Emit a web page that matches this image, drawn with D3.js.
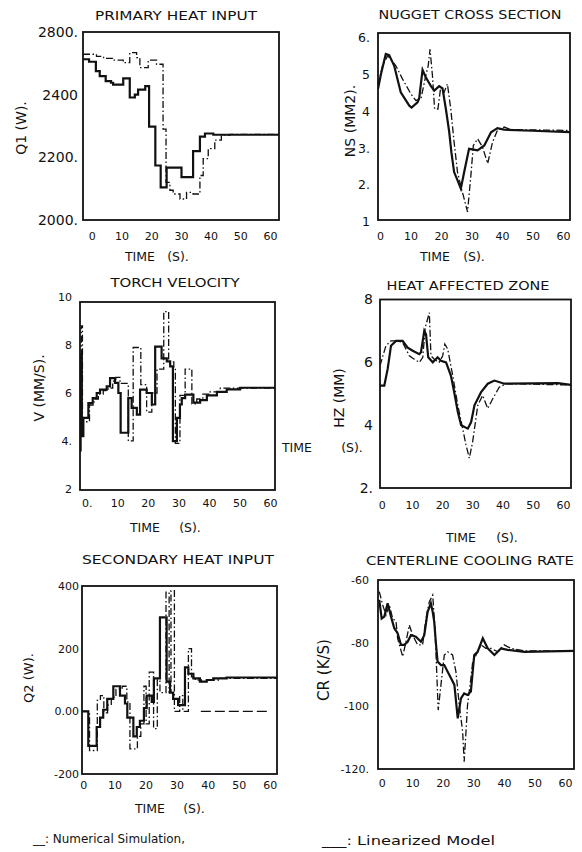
<!DOCTYPE html>
<html><head><meta charset="utf-8">
<script src="https://cdn.jsdelivr.net/npm/d3@7"></script>
<style>
body{margin:0;background:#fff}
svg{display:block;background:#fff}
text{font-family:"DejaVu Sans",sans-serif;fill:#111}
</style>
</head><body>
<svg id="c" width="582" height="852"></svg>
<script>
// ---------- tick labels ----------
const xTickValues = [0,10,20,30,40,50,60];
const xTickLabels = ["0","10","20","30","40","50","60"];
const xTickLabelsV = ["0.","10","20","30","40","50","60"];
const q1Ticks = [2000,2200,2400,2600];
const q1TickLabels = ["2000.","2200.","2400","2800."];
const nsTicks = [1,2,3,4,5,6];
const nsTickLabels = ["1","2.","3.","4","5","6."];
const vTicks = [2,4,6,8,10];
const vTickLabels = ["2","4.","6","8","10"];
const hzTicks = [2,4,6,8];
const hzTickLabels = ["2.","4","6","8"];
const q2Ticks = [-200,0,200,400];
const q2TickLabels = ["-200","0.00","200","400"];
const crTicks = [-120,-100,-80,-60];
const crTickLabels = ["-120.","-100","-80","-60"];

// ---------- series: [time (s), value] ----------
// Primary heat input Q1 (W)
const q1Num = [[-2.93,2513],[-0.9,2505],[1.4,2475],[2.7,2459],[4.7,2443],[6.5,2438],[7.2,2432],[10.6,2452],[12.8,2391],[14.5,2400],[15.6,2416],[18.0,2427],[19.3,2298],[21.4,2174],[23.2,2104],[25.2,2167],[30.2,2137],[34.1,2220],[36.4,2266],[38.1,2276],[40.9,2272],[63,2272]];
const q1Lin = [[-2.93,2529],[1.6,2522],[4,2516],[7,2510],[10.6,2502],[12.8,2534],[15.1,2518],[16.2,2486],[19.0,2510],[21.8,2497],[24.0,2290],[25.0,2120],[26.3,2095],[27.4,2083],[29.7,2067],[31.9,2088],[34.1,2083],[36.4,2142],[37.5,2196],[39.2,2228],[41.4,2255],[43.6,2271],[46.5,2273],[63,2273]];
// Nugget cross section NS (mm2)
const nsNum = [[-0.66,4.6],[0.3,5.0],[1.9,5.55],[3.0,5.52],[4.65,5.23],[6.8,4.51],[9.6,4.15],[10.35,4.1],[12.3,4.24],[12.85,4.35],[13.95,5.12],[15.0,4.92],[16.7,4.68],[17.8,4.56],[19.4,4.68],[20.5,4.62],[21.6,4.06],[22.7,3.43],[23.4,2.89],[24.3,2.35],[25.4,2.13],[26.5,1.9],[27.6,2.35],[29.2,2.98],[32.0,2.94],[34.2,3.07],[36.4,3.43],[38.5,3.54],[40.7,3.5],[50,3.47],[62.3,3.43]];
const nsLin = [[-0.66,4.7],[0.83,5.23],[2.46,5.5],[3.55,5.41],[5.2,5.23],[7.4,4.87],[10.1,4.47],[11.75,4.29],[13.4,4.33],[15.0,4.96],[15.8,5.23],[16.4,5.68],[17.2,4.96],[17.9,4.06],[19.0,4.06],[19.9,4.65],[21.0,4.51],[22.1,4.74],[23.2,4.06],[24.3,3.16],[25.4,2.35],[27.0,1.81],[28.7,1.27],[29.8,2.26],[30.6,3.07],[32.0,3.25],[33.6,3.03],[35.3,2.58],[36.9,3.16],[38.5,3.48],[40.7,3.57],[42.9,3.5],[62.3,3.48]];
// Torch velocity V (mm/s)
const vNum = [[-2.2,3.6],[-2.0,7.6],[-1.6,4.2],[-1.1,4.96],[0.54,5.58],[1.96,5.79],[3.27,6.0],[4.35,6.14],[6.55,6.28],[7.63,6.62],[9.26,6.42],[10.35,6.0],[11.1,4.34],[13.6,5.79],[14.7,5.38],[16.4,5.1],[17.45,6.14],[19.6,6.0],[21.3,5.52],[22.4,7.94],[24.5,7.45],[26.2,7.32],[27.3,7.11],[28.2,3.99],[29.5,4.96],[30.5,5.52],[31.1,5.79],[32.2,5.93],[34.9,5.6],[37.1,5.7],[39.3,5.9],[42.6,6.05],[45.8,6.15],[50.2,6.22],[61.6,6.22]];
const vLin = [[-2.2,4.2],[-1.8,8.8],[-1.4,4.8],[0.9,5.5],[2.4,5.75],[3.8,5.95],[5.4,6.1],[7.0,6.2],[8.5,6.5],[9.5,6.65],[10.9,6.4],[13.6,4.0],[15.2,7.9],[17.7,6.35],[19.6,5.2],[21.3,6.0],[23.0,7.0],[25.2,9.4],[26.8,7.3],[28.5,7.05],[29.0,3.9],[30.5,5.9],[32.2,7.0],[34.4,5.55],[36.0,5.75],[38,5.95],[40,6.05],[43.7,6.2],[61.6,6.22]];
// Heat affected zone HZ (mm)
const hzNum = [[-0.56,5.26],[0.87,5.26],[1.98,5.79],[3.08,6.53],[4.74,6.68],[6.94,6.68],[8.6,6.47],[10.26,6.37],[12.46,6.26],[13.0,6.32],[14.1,7.0],[14.67,6.89],[15.4,6.16],[16.9,6.0],[18.5,6.16],[19.6,6.05],[21.3,6.0],[22.9,5.58],[24.0,5.05],[25.2,4.42],[26.3,4.0],[28.5,3.89],[29.6,4.1],[30.7,4.63],[32.9,5.05],[35.1,5.32],[37.3,5.42],[40.6,5.32],[58.3,5.34],[62.65,5.28]];
const hzLin = [[-0.56,5.89],[1.4,6.53],[3.08,6.68],[5.3,6.68],[6.94,6.63],[9.15,6.21],[10.8,6.1],[12.46,6.0],[13.6,6.16],[14.4,7.1],[15.77,7.58],[16.3,6.21],[17.4,6.1],[19.0,6.0],[20.2,6.21],[20.9,6.58],[21.85,6.42],[23.5,5.58],[25.2,4.63],[26.8,3.89],[27.9,3.37],[29.0,2.95],[30.1,3.47],[31.8,4.63],[33.4,4.95],[35.1,4.53],[36.75,4.84],[38.9,5.21],[41.2,5.32],[62.65,5.28]];
// Secondary heat input Q2 (W)
const q2Num = [[-0.42,0],[1.6,-110],[4.3,-50],[5.4,-20],[6.4,5],[7.7,40],[9.65,80],[11.8,50],[13.4,25],[14.15,-20],[16.1,-80],[17.2,-50],[18.2,-30],[19.5,10],[20.4,50],[22.0,30],[22.7,105],[24.65,300],[26.8,95],[27.9,60],[28.9,40],[30.5,20],[32.7,140],[33.8,120],[35.4,105],[37.5,95],[39.7,100],[41.8,105],[46.1,108],[62.3,108]];
const q2Lin = [[-0.42,0],[2.0,-125],[4.5,35],[5.5,50],[6.6,-5],[7.8,20],[9.0,45],[10.5,70],[12.5,80],[14.0,30],[15.0,-120],[17.4,-80],[18.5,-40],[19.5,80],[20.2,-40],[21.2,125],[22.6,-55],[23.8,100],[24.65,60],[26.6,380],[27.6,60],[28.2,385],[29.3,0],[31.0,50],[32.0,0],[33.8,200],[34.8,110],[36,100],[38,95],[40,100],[44,105],[62.3,105]];
const q2Ref = [[37.8,0],[59.5,0]];
// Centerline cooling rate CR (K/s)
const crNum = [[-0.78,-66.3],[0,-72.2],[0.87,-71.6],[1.95,-67.4],[3.04,-71.6],[4.13,-75.3],[5.22,-76.9],[6.32,-80.6],[7.41,-80.6],[8.5,-79.6],[9.59,-77.5],[11.2,-78.0],[12.86,-79.6],[13.95,-77.5],[15.04,-70.1],[16.1,-67.4],[16.7,-70.1],[17.2,-73.2],[17.8,-80.6],[18.3,-85.9],[19.4,-87.0],[20.5,-87.0],[21.6,-89.1],[22.7,-91.2],[23.8,-93.3],[24.9,-103.9],[25.95,-97.6],[27.0,-96.0],[28.1,-96.5],[29.2,-95.4],[30.3,-83.8],[31.4,-82.8],[33.1,-78.5],[34.7,-81.7],[36.9,-83.8],[39.05,-81.7],[41.2,-82.2],[46.7,-82.8],[62.95,-82.5]];
const crLin = [[-0.78,-63.7],[0.33,-67.9],[1.41,-71.1],[2.5,-67.9],[3.6,-72.2],[4.7,-73.2],[5.22,-78.5],[6.86,-84.3],[7.96,-79.6],[9.05,-74.3],[10.14,-77.5],[11.77,-80.6],[13.4,-80.6],[14.5,-72.2],[15.6,-66.9],[16.7,-64.8],[17.45,-75.3],[18.1,-91.2],[18.5,-101.3],[19.4,-93.3],[20.5,-83.8],[21.6,-82.8],[23.2,-83.8],[24.3,-89.1],[25.4,-99.7],[26.5,-108.1],[27.0,-117.7],[27.6,-108.1],[28.1,-99.7],[29.2,-91.2],[29.8,-85.9],[30.9,-83.8],[32.5,-80.6],[34.1,-81.7],[35.8,-81.7],[38.0,-82.8],[40.1,-80.6],[42.3,-81.7],[46.7,-82.5],[62.95,-82.5]];

const legendLabels = ["__: Numerical Simulation,", "___: Linearized Model"];

// ---------- panel definitions (content) ----------
const panels = [
  {key:"q1", title:"PRIMARY HEAT INPUT", yTitle:"Q1 (W).", yTicks:q1Ticks, yLabels:q1TickLabels, xLabels:xTickLabels, curve:d3.curveStepAfter,
   series:[{data:q1Lin,kind:"lin"},{data:q1Num,kind:"num"}]},
  {key:"ns", title:"NUGGET CROSS SECTION", yTitle:"NS (MM2).", yTicks:nsTicks, yLabels:nsTickLabels, xLabels:xTickLabels, curve:d3.curveLinear,
   series:[{data:nsLin,kind:"lin"},{data:nsNum,kind:"num"}]},
  {key:"v", title:"TORCH VELOCITY", yTitle:"V (MM/S).", yTicks:vTicks, yLabels:vTickLabels, xLabels:xTickLabelsV, curve:d3.curveStepAfter,
   series:[{data:vLin,kind:"lin"},{data:vNum,kind:"num"}]},
  {key:"hz", title:"HEAT AFFECTED ZONE", yTitle:"HZ (MM)", yTicks:hzTicks, yLabels:hzTickLabels, xLabels:xTickLabels, curve:d3.curveLinear,
   series:[{data:hzLin,kind:"lin"},{data:hzNum,kind:"num"}]},
  {key:"q2", title:"SECONDARY HEAT INPUT", yTitle:"Q2 (W).", yTicks:q2Ticks, yLabels:q2TickLabels, xLabels:xTickLabels, curve:d3.curveStepAfter,
   series:[{data:q2Ref,kind:"ref"},{data:q2Lin,kind:"lin"},{data:q2Num,kind:"num"}]},
  {key:"cr", title:"CENTERLINE COOLING RATE", yTitle:"CR (K/S)", yTicks:crTicks, yLabels:crTickLabels, xLabels:xTickLabels, curve:d3.curveLinear,
   series:[{data:crLin,kind:"lin"},{data:crNum,kind:"num"}]}
];

// ---------- layout (positions / sizes) ----------
const layout = {
  q1:{box:[83,32,279,220], xDom:[-2.93,63.0], yDom:[2000,2600], title:[176,20,162], yTitle:[21,128,14], yFont:14, yPad:5, xLab:236, timeAt:[140,178,261]},
  ns:{box:[378,33,570,220], xDom:[-0.66,62.3], yDom:[1.05,6.12], title:[470,19,183], yTitle:[350,121,14], yFont:12.5, yPad:8, xLab:236, timeAt:[435,474,261]},
  v: {box:[80,302,275,490], xDom:[-2.2,61.6], yDom:[1.95,9.8], title:[175,287,129], yTitle:[39,388,14], yFont:11, yPad:8, xLab:503, timeAt:[145,190,532]},
  hz:{box:[380,299.5,571,488], xDom:[-0.56,62.65], yDom:[2,8], title:[468,290,163], yTitle:[339,398,14], yFont:14, yPad:7, xLab:505, timeAt:[461,507,542]},
  q2:{box:[82,586,277,774], xDom:[-0.42,62.3], yDom:[-200,400], title:[178,564,192], yTitle:[28,678,13], yFont:11, yPad:3, xLab:785, timeAt:[150,194,813]},
  cr:{box:[378,580,574,769], xDom:[-1.2,62.95], yDom:[-120,-60], title:[470,565,208], yTitle:[324,670,15], yFont:11, yPad:9, xLab:783, timeAt:null}
};
const styles = {
  num:{w:2.2, dash:null},
  lin:{w:1.3, dash:"7,2.5,1.5,2.5"},
  ref:{w:1.4, dash:"10,4"}
};

const svg = d3.select("#c");
svg.append("rect").attr("width",582).attr("height",852).attr("fill","#fff");
const defs = svg.append("defs");

panels.forEach(p => {
  const L = layout[p.key];
  const [x0,y0,x1,y1] = L.box;
  const x = d3.scaleLinear().domain(L.xDom).range([x0,x1]);
  const y = d3.scaleLinear().domain(L.yDom).range([y1,y0]);
  const g = svg.append("g").attr("class","panel-"+p.key);

  defs.append("clipPath").attr("id","clip-"+p.key)
    .append("rect").attr("x",x0).attr("y",y0).attr("width",x1-x0).attr("height",y1-y0);

  const line = d3.line().x(d=>x(d[0])).y(d=>y(d[1])).curve(p.curve);
  p.series.forEach(s => {
    const st = styles[s.kind];
    g.append("path").attr("d", line(s.data))
      .attr("clip-path","url(#clip-"+p.key+")")
      .attr("fill","none").attr("stroke","#111")
      .attr("stroke-width", st.w)
      .attr("stroke-dasharray", st.dash)
      .attr("stroke-linejoin","miter");
  });

  g.append("rect").attr("x",x0).attr("y",y0).attr("width",x1-x0).attr("height",y1-y0)
    .attr("fill","none").attr("stroke","#111").attr("stroke-width",1.8);

  // x axis labels
  const fsX = 11;
  const xa = d3.axisBottom(x).tickValues(xTickValues).tickFormat((d,i)=>p.xLabels[i])
    .tickSize(0).tickPadding(L.xLab - y1 - 0.36*fsX);
  const gx = g.append("g").attr("transform",`translate(0,${y1})`).call(xa);
  gx.select(".domain").remove();
  gx.attr("font-family",null).attr("font-size",fsX);

  // y axis labels
  const ya = d3.axisLeft(y).tickValues(p.yTicks).tickFormat((d,i)=>p.yLabels[i])
    .tickSize(0).tickPadding(L.yPad);
  const gy = g.append("g").attr("transform",`translate(${x0},0)`).call(ya);
  gy.select(".domain").remove();
  gy.attr("font-family",null).attr("font-size",L.yFont);

  // title
  g.append("text").attr("x",L.title[0]).attr("y",L.title[1]).attr("text-anchor","middle")
    .attr("font-size",12.5).attr("textLength",L.title[2]).attr("lengthAdjust","spacingAndGlyphs")
    .text(p.title);

  // y title
  g.append("text").attr("transform",`translate(${L.yTitle[0]},${L.yTitle[1]}) rotate(-90)`)
    .attr("text-anchor","middle").attr("dominant-baseline","central")
    .attr("font-size",L.yTitle[2]).text(p.yTitle);

  // time label
  if (L.timeAt) {
    g.append("text").attr("x",L.timeAt[0]).attr("y",L.timeAt[2]).attr("text-anchor","middle").attr("font-size",12.5).text("TIME");
    g.append("text").attr("x",L.timeAt[1]).attr("y",L.timeAt[2]).attr("text-anchor","middle").attr("font-size",12.5).text("(S).");
  }
});

// stray axis title between the middle panels (present in the reference)
svg.append("text").attr("x",297).attr("y",452).attr("text-anchor","middle").attr("font-size",12.5).text("TIME");
svg.append("text").attr("x",352).attr("y",452).attr("text-anchor","middle").attr("font-size",12.5).text("(S).");

// legend
svg.append("text").attr("x",33).attr("y",843).attr("font-size",12.5)
  .attr("textLength",152).attr("lengthAdjust","spacingAndGlyphs").text(legendLabels[0]);
svg.append("text").attr("x",322).attr("y",845).attr("font-size",13)
  .attr("textLength",173).attr("lengthAdjust","spacingAndGlyphs").text(legendLabels[1]);
</script>
</body></html>
